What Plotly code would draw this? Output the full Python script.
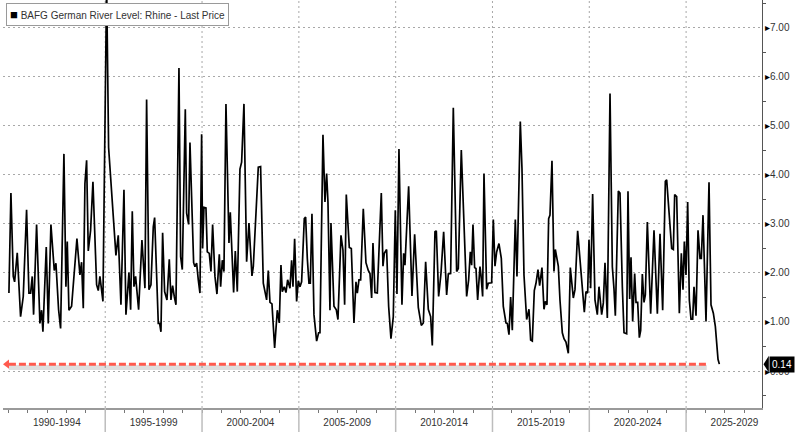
import plotly.graph_objects as go

# BAFG German River Level: Rhine - Last Price (readings in metres, decimal years)
years = [
    1990.026, 1990.129, 1990.250, 1990.319, 1990.456, 1990.542, 1990.628, 1990.766, 1990.938, 1991.059,
    1991.145, 1991.231, 1991.300, 1991.455, 1991.627, 1991.713, 1991.782, 1991.954, 1992.058, 1992.195,
    1992.368, 1992.454, 1992.591, 1992.695, 1992.867, 1992.970, 1993.039, 1993.125, 1993.263, 1993.538,
    1993.693, 1993.779, 1993.866, 1993.951, 1994.038, 1994.124, 1994.244, 1994.365, 1994.554, 1994.640,
    1994.726, 1994.881, 1995.071, 1995.174, 1995.415, 1995.553, 1995.673, 1995.812, 1995.967, 1996.070,
    1996.225, 1996.311, 1996.397, 1996.483, 1996.569, 1996.621, 1996.724, 1996.896, 1996.982, 1997.051,
    1997.137, 1997.258, 1997.361, 1997.482, 1997.551, 1997.671, 1997.740, 1997.809, 1997.878, 1997.964,
    1998.067, 1998.188, 1998.308, 1998.394, 1998.480, 1998.566, 1998.653, 1998.808, 1998.894, 1998.980,
    1999.135, 1999.204, 1999.307, 1999.376, 1999.479, 1999.565, 1999.634, 1999.720, 1999.806, 1999.892,
    1999.978, 2000.030, 2000.099, 2000.202, 2000.271, 2000.374, 2000.460, 2000.546, 2000.667, 2000.770,
    2000.891, 2000.960, 2001.046, 2001.132, 2001.235, 2001.390, 2001.459, 2001.545, 2001.631, 2001.717,
    2001.821, 2001.958, 2002.044, 2002.165, 2002.302, 2002.423, 2002.578, 2002.647, 2002.767, 2002.905,
    2003.025, 2003.163, 2003.335, 2003.421, 2003.508, 2003.611, 2003.749, 2003.886, 2003.990, 2004.076,
    2004.145, 2004.248, 2004.334, 2004.420, 2004.541, 2004.627, 2004.696, 2004.782, 2004.885, 2004.971,
    2005.057, 2005.143, 2005.281, 2005.350, 2005.436, 2005.522, 2005.591, 2005.677, 2005.780, 2005.918,
    2006.021, 2006.090, 2006.245, 2006.348, 2006.435, 2006.503, 2006.607, 2006.658, 2006.813, 2006.934,
    2007.020, 2007.175, 2007.278, 2007.364, 2007.450, 2007.605, 2007.709, 2007.846, 2007.950, 2008.019,
    2008.105, 2008.191, 2008.328, 2008.466, 2008.586, 2008.673, 2008.759, 2008.828, 2008.931, 2009.051,
    2009.258, 2009.344, 2009.413, 2009.533, 2009.637, 2009.757, 2009.878, 2009.981, 2010.067, 2010.170,
    2010.325, 2010.412, 2010.480, 2010.670, 2010.842, 2010.980, 2011.169, 2011.324, 2011.427, 2011.548,
    2011.686, 2011.806, 2011.892, 2012.030, 2012.099, 2012.219, 2012.340, 2012.478, 2012.633, 2012.719,
    2012.839, 2012.977, 2013.149, 2013.235, 2013.390, 2013.545, 2013.666, 2013.769, 2013.855, 2013.924,
    2013.993, 2014.079, 2014.148, 2014.234, 2014.320, 2014.354, 2014.406, 2014.492, 2014.561, 2014.698,
    2014.784, 2014.957, 2015.043, 2015.129, 2015.215, 2015.335, 2015.456, 2015.559, 2015.697, 2015.766,
    2015.852, 2015.938, 2016.024, 2016.179, 2016.265, 2016.437, 2016.523, 2016.627, 2016.765, 2016.885,
    2016.971, 2017.057, 2017.160, 2017.247, 2017.350, 2017.436, 2017.556, 2017.660, 2017.729, 2017.815,
    2017.901, 2017.970, 2018.073, 2018.176, 2018.245, 2018.400, 2018.486, 2018.607, 2018.693, 2018.796,
    2018.917, 2019.020, 2019.175, 2019.261, 2019.399, 2019.519, 2019.640, 2019.743, 2019.829, 2019.915,
    2019.984, 2020.070, 2020.173, 2020.294, 2020.415, 2020.501, 2020.639, 2020.725, 2020.811, 2020.932,
    2021.070, 2021.190, 2021.276, 2021.345, 2021.500, 2021.586, 2021.707, 2021.793, 2021.930, 2021.999,
    2022.085, 2022.154, 2022.240, 2022.344, 2022.413, 2022.499, 2022.585, 2022.654, 2022.740, 2022.826,
    2022.895, 2022.998, 2023.170, 2023.342, 2023.515, 2023.652, 2023.790, 2023.928, 2023.997, 2024.100,
    2024.255, 2024.341, 2024.410, 2024.513, 2024.651, 2024.754, 2024.840, 2024.909, 2024.995, 2025.081,
    2025.167, 2025.253, 2025.340, 2025.408, 2025.512, 2025.615, 2025.718, 2025.787, 2025.873, 2026.028,
    2026.183, 2026.286, 2026.407, 2026.510, 2026.648, 2026.717,
]
levels = [
    1.59, 3.63, 1.93, 1.82, 2.41, 1.72, 1.11, 1.52, 3.29, 1.59,
    1.59, 1.93, 1.15, 2.99, 0.97, 1.24, 0.80, 2.53, 0.97, 2.99,
    2.05, 2.20, 1.25, 0.87, 4.43, 1.72, 2.64, 1.24, 1.32, 2.70,
    1.96, 2.22, 1.28, 3.82, 4.30, 2.45, 2.87, 3.86, 1.76, 1.64,
    1.93, 1.42, 7.90, 4.56, 3.14, 2.36, 2.77, 1.35, 3.70, 1.15,
    2.01, 1.25, 3.26, 1.72, 1.93, 1.72, 1.25, 2.67, 2.16, 1.69,
    5.54, 1.66, 1.76, 2.94, 3.13, 1.52, 0.97, 0.97, 0.80, 2.82,
    1.62, 1.45, 2.28, 1.45, 1.74, 1.52, 1.35, 6.18, 2.33, 2.07,
    5.34, 3.22, 2.99, 4.66, 3.11, 2.21, 2.13, 2.20, 1.86, 1.59,
    4.83, 2.50, 3.34, 3.33, 2.43, 2.40, 2.03, 2.99, 1.93, 1.57,
    2.38, 1.72, 2.26, 2.03, 5.45, 2.61, 3.24, 2.47, 1.60, 2.45,
    1.62, 4.12, 4.26, 5.45, 2.23, 3.02, 1.94, 2.13, 3.21, 4.16,
    4.17, 1.79, 1.45, 2.05, 1.40, 1.37, 0.47, 1.24, 0.98, 2.16,
    1.62, 1.72, 1.60, 1.86, 1.69, 2.26, 1.72, 2.70, 1.42, 1.84,
    1.72, 1.82, 3.11, 3.14, 2.30, 1.79, 1.79, 3.21, 1.15, 0.61,
    0.78, 0.78, 4.82, 3.45, 4.03, 3.45, 1.24, 3.02, 1.32, 1.25,
    1.05, 2.77, 2.47, 1.35, 3.60, 2.52, 2.50, 0.98, 1.82, 1.59,
    1.86, 1.86, 3.31, 2.21, 2.05, 1.99, 1.49, 2.61, 1.60, 1.59,
    3.63, 2.14, 2.40, 2.48, 1.32, 0.66, 1.11, 3.28, 1.57, 4.53,
    1.35, 2.40, 2.16, 3.77, 1.53, 2.79, 1.30, 0.93, 0.98, 2.23,
    1.26, 1.11, 0.52, 2.84, 2.86, 1.52, 1.99, 2.84, 1.55, 1.98,
    1.99, 5.37, 2.03, 2.09, 4.51, 2.80, 1.52, 1.86, 2.43, 2.16,
    2.99, 2.11, 2.09, 1.45, 1.86, 2.13, 1.96, 1.52, 4.03, 1.67,
    1.79, 1.80, 3.09, 2.14, 2.43, 2.60, 2.30, 1.32, 0.98, 0.97,
    0.74, 1.51, 0.83, 3.09, 1.93, 5.09, 4.14, 1.96, 1.05, 1.26,
    0.63, 0.61, 1.64, 1.79, 2.07, 1.74, 2.11, 1.26, 1.42, 1.35,
    3.11, 3.18, 4.29, 2.03, 2.48, 2.14, 1.45, 0.78, 0.66, 0.59,
    0.36, 2.11, 1.49, 1.66, 2.86, 2.28, 1.86, 1.20, 1.62, 1.59,
    2.68, 1.69, 3.61, 1.45, 1.15, 1.72, 1.15, 1.39, 2.21, 1.08,
    5.66, 2.13, 1.67, 1.13, 3.67, 3.63, 1.72, 0.78, 0.76, 3.67,
    1.47, 2.32, 1.01, 1.99, 1.40, 1.40, 0.68, 0.83, 1.98, 1.40,
    1.55, 3.04, 1.17, 2.87, 1.17, 2.80, 1.24, 3.87, 3.90, 3.31,
    2.50, 2.48, 3.60, 3.56, 1.18, 2.40, 1.66, 2.64, 1.96, 3.45,
    1.45, 1.06, 1.06, 1.72, 1.13, 2.87, 2.30, 2.30, 3.18, 1.01,
    3.85, 1.35, 1.18, 0.91, 0.24, 0.14,
]

period_centers = [1992.5, 1997.5, 2002.5, 2007.5, 2012.5, 2017.5, 2022.5, 2027.5]
period_labels = ["1990-1994", "1995-1999", "2000-2004", "2005-2009",
                 "2010-2014", "2015-2019", "2020-2024", "2025-2029"]
period_breaks = [1995, 2000, 2005, 2010, 2015, 2020, 2025]
y_ticks = [0, 1, 2, 3, 4, 5, 6, 7]

last = levels[-1]
x_range = [1989.72, 2028.92]
y_range = [-0.755, 7.57]

fig = go.Figure()

# shadow + red dashed level line at the latest reading
fig.add_trace(go.Scatter(x=[years[0], years[-1] - 0.65], y=[last - 0.07, last - 0.07],
                         mode="lines", line=dict(color="rgba(0,0,0,0.13)", width=5),
                         hoverinfo="skip", showlegend=False))
fig.add_trace(go.Scatter(x=[years[0], years[-1] - 0.65], y=[last, last],
                         mode="lines", line=dict(color="#ff5a4e", width=3, dash="7px,3px"),
                         hoverinfo="skip", showlegend=False))
fig.add_trace(go.Scatter(x=[years[0] - 0.1], y=[last], mode="markers",
                         marker=dict(symbol="triangle-left", size=8, color="#ff5a4e"),
                         hoverinfo="skip", showlegend=False))

fig.add_trace(go.Scatter(x=years, y=levels, mode="lines",
                         line=dict(color="black", width=1.7),
                         name="BAFG German River Level: Rhine - Last Price",
                         showlegend=False))

shapes = []
for b in period_breaks:
    shapes.append(dict(type="line", xref="x", yref="paper", x0=b, x1=b, y0=0, y1=1,
                       line=dict(color="#a8a8a8", width=1, dash="2px,3px"), layer="below"))
    shapes.append(dict(type="line", xref="x", yref="paper", x0=b, x1=b, y0=-0.07, y1=0,
                       line=dict(color="#bdbdbd", width=1.5)))
# pointer of the last value tag
shapes.append(dict(type="path", xref="paper", yref="y",
                   path=f"M 1.002,{last} L 1.009,{last + 0.17} L 1.009,{last - 0.17} Z",
                   fillcolor="black", line=dict(width=0)))

fig.update_layout(
    width=800, height=432,
    margin=dict(l=3, r=38, t=0, b=24),
    paper_bgcolor="white", plot_bgcolor="white",
    font=dict(family="Liberation Sans, Arial, sans-serif", size=10, color="#333333"),
    shapes=shapes,
    xaxis=dict(
        range=x_range, tickmode="array", tickvals=period_centers, ticktext=period_labels,
        ticks="", showgrid=False, zeroline=False, showline=True, linecolor="#9a9a9a", linewidth=1.5,
        tickfont=dict(size=10, color="#333333"), ticklabelstandoff=4,
        minor=dict(tickmode="linear", tick0=1990, dtick=1, ticks="outside", ticklen=3,
                   tickcolor="#777777", showgrid=False),
    ),
    yaxis=dict(
        range=y_range, side="right", tickmode="array", tickvals=y_ticks,
        ticktext=["<span style='color:black'>▸</span>%.2f" % v for v in y_ticks],
        ticks="", showgrid=True, gridcolor="#a8a8a8", griddash="2px,3px", gridwidth=1,
        zeroline=False, showline=True, linecolor="#555555", linewidth=1,
        tickfont=dict(size=10, color="#333333"), automargin=False,
        minor=dict(tickmode="linear", tick0=0.5, dtick=1, ticks="outside", ticklen=3,
                   tickcolor="#555555", showgrid=False),
    ),
    annotations=[
        dict(xref="paper", yref="paper", x=0.004, y=0.992, xanchor="left", yanchor="top",
             text="<span style='font-size:13px;color:black'>■</span> BAFG German River Level: Rhine - Last Price",
             showarrow=False, bgcolor="white", bordercolor="#9a9a9a", borderwidth=1, borderpad=3,
             font=dict(size=10, color="#333333")),
        dict(xref="paper", yref="y", x=1.009, y=last, xanchor="left", yanchor="middle",
             text="%.2f" % last, showarrow=False, bgcolor="black", borderpad=2,
             font=dict(size=10, color="white")),
    ],
)

fig.write_html("out.html", config={"displayModeBar": False},
               post_script="document.body.style.margin='0';")
